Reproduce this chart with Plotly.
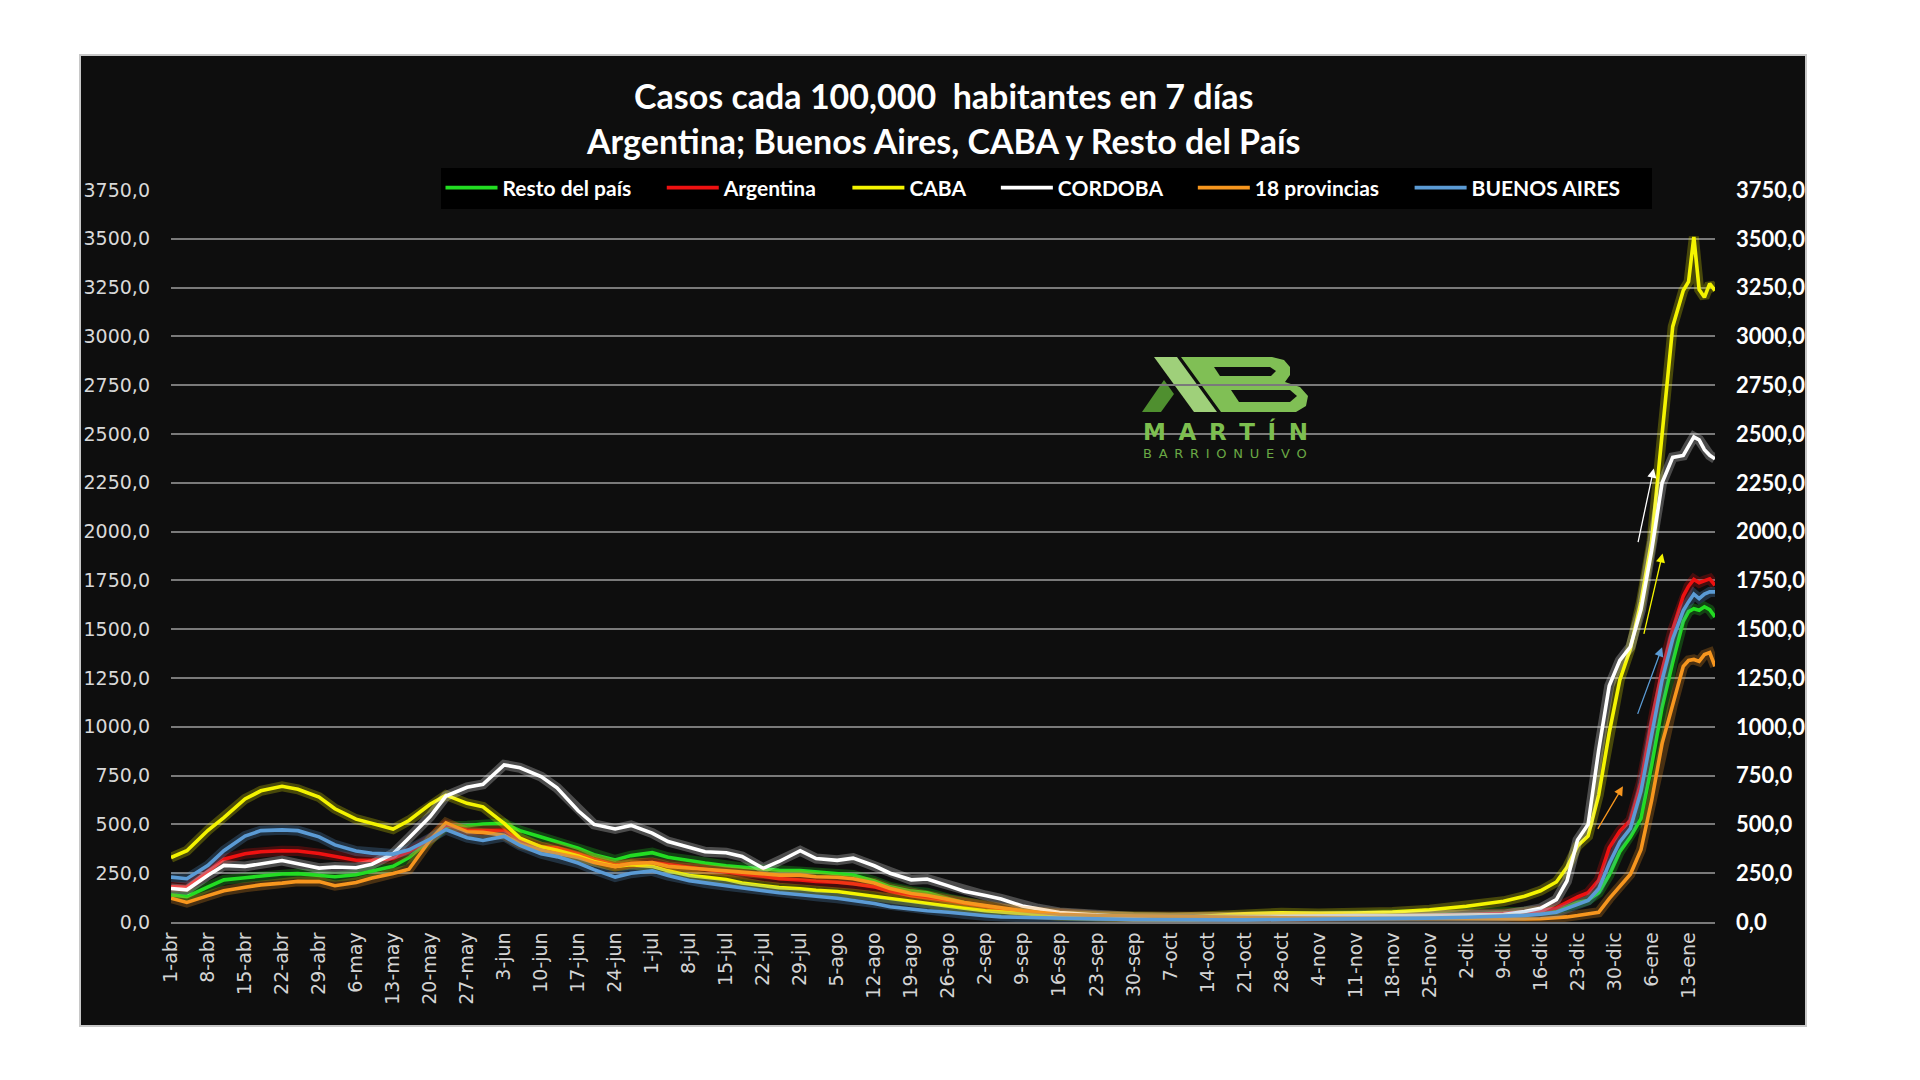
import plotly.graph_objects as go

# ---------------- data ----------------
dates = [
    "2020-04-01", "2020-04-04", "2020-04-08", "2020-04-11", "2020-04-15", "2020-04-18", "2020-04-22",
    "2020-04-25", "2020-04-29", "2020-05-02", "2020-05-06", "2020-05-09", "2020-05-13", "2020-05-16",
    "2020-05-20", "2020-05-23", "2020-05-27", "2020-05-30", "2020-06-03", "2020-06-06", "2020-06-10",
    "2020-06-13", "2020-06-17", "2020-06-20", "2020-06-24", "2020-06-27", "2020-07-01", "2020-07-04",
    "2020-07-08", "2020-07-11", "2020-07-15", "2020-07-18", "2020-07-22", "2020-07-25", "2020-07-29",
    "2020-08-01", "2020-08-05", "2020-08-08", "2020-08-12", "2020-08-15", "2020-08-19", "2020-08-22",
    "2020-08-26", "2020-08-29", "2020-09-02", "2020-09-05", "2020-09-09", "2020-09-12", "2020-09-16",
    "2020-09-23", "2020-09-30", "2020-10-07", "2020-10-14", "2020-10-21", "2020-10-28", "2020-11-04",
    "2020-11-11", "2020-11-18", "2020-11-25", "2020-12-02", "2020-12-09", "2020-12-13", "2020-12-16",
    "2020-12-19", "2020-12-21", "2020-12-23", "2020-12-25", "2020-12-27", "2020-12-29", "2020-12-31",
    "2021-01-02", "2021-01-04", "2021-01-06", "2021-01-08", "2021-01-10", "2021-01-12", "2021-01-13",
    "2021-01-14", "2021-01-15", "2021-01-16", "2021-01-17", "2021-01-18",
]

resto_del_pais = [
    138, 130, 180, 216, 227, 236, 246, 248, 241, 232, 242, 259, 285, 330, 420, 490, 493, 502, 505, 468, 435,
    410, 378, 345, 318, 340, 355, 332, 314, 302, 288, 280, 270, 265, 264, 258, 247, 241, 210, 180,
    158, 150, 120, 100, 82, 68, 53, 45, 37,
    30, 24, 23, 23, 25, 28, 30, 31, 33, 36, 40, 46,
    52, 58, 62, 78, 100, 112, 150, 240, 360, 435, 530, 800, 1100, 1330, 1540, 1590, 1605, 1597, 1615, 1600, 1563,
]

argentina = [
    180, 178, 260, 322, 350, 360, 365, 364, 351, 335, 316, 316, 325, 360, 425, 498, 470, 468, 470, 417, 385,
    380, 350, 320, 292, 300, 305, 295, 280, 268, 255, 246, 235, 222, 215, 208, 204, 196, 180, 158,
    135, 126, 110, 96, 80, 68, 52, 45, 37,
    30, 24, 21, 19, 22, 25, 27, 28, 30, 33, 38, 44,
    50, 58, 72, 100, 128, 150, 215, 380, 465, 521, 715, 1030, 1290, 1500, 1670, 1720, 1755, 1738, 1750, 1758, 1725,
]

caba = [
    330, 365, 470, 535, 630, 672, 695, 680, 640, 580, 527, 505, 476, 520, 603, 650, 608, 590, 505, 430, 385,
    368, 338, 310, 285, 294, 285, 262, 238, 230, 218, 200, 185, 176, 170, 162, 156, 145, 132, 119,
    106, 97, 82, 70, 58, 51, 43, 38, 32,
    28, 23, 20, 30, 42, 47, 44, 46, 51, 63, 81, 106,
    132, 160, 205, 280, 390, 440, 650, 970, 1240, 1400, 1640, 1950, 2520, 3050, 3235, 3280, 3510, 3240, 3200, 3270, 3235,
]

cordoba = [
    172, 165, 240, 290, 285, 296, 315, 298, 276, 282, 278, 296, 350, 430, 540, 645, 690, 705, 805, 790, 745,
    687, 570, 500, 477, 495, 455, 412, 383, 360, 355, 336, 275, 310, 365, 325, 316, 327, 288, 250,
    216, 220, 185, 158, 136, 118, 82, 68, 49,
    36, 26, 23, 25, 28, 32, 35, 33, 32, 34, 36, 38,
    54, 70, 115, 210, 420, 500, 880, 1210, 1340, 1410, 1600, 1900, 2250, 2380, 2390, 2440, 2485, 2470, 2420, 2391, 2373,
]

provincias_18 = [
    122, 100, 135, 160, 178, 190, 199, 208, 207, 186, 202, 225, 248, 270, 420, 508, 462, 459, 445, 400, 368,
    350, 330, 305, 284, 300, 305, 285, 274, 270, 262, 255, 245, 240, 240, 232, 229, 222, 200, 172,
    146, 136, 116, 100, 84, 72, 58, 50, 40,
    33, 30, 28, 26, 24, 22, 20, 19, 17, 15, 14, 14,
    15, 17, 20, 26, 33, 40, 50, 120, 185, 245, 370, 620, 915, 1110, 1310, 1340, 1345, 1335, 1370, 1380, 1310,
]

buenos_aires = [
    230, 222, 290, 365, 440, 468, 472, 468, 436, 395, 364, 352, 348, 370, 425, 474, 432, 418, 438, 392, 350,
    335, 302, 268, 230, 250, 262, 238, 212, 200, 186, 175, 160, 150, 138, 132, 122, 112, 95, 78,
    66, 58, 50, 41, 32, 26, 23, 21, 19,
    16, 13, 11, 10, 11, 13, 14, 15, 17, 20, 24, 28,
    34, 40, 50, 70, 92, 110, 170, 300, 410, 480, 670, 965, 1240, 1450, 1595, 1640, 1680, 1657, 1680, 1691, 1691,
]

tick_dates = [
    "2020-04-01", "2020-04-08", "2020-04-15", "2020-04-22", "2020-04-29", "2020-05-06", "2020-05-13",
    "2020-05-20", "2020-05-27", "2020-06-03", "2020-06-10", "2020-06-17", "2020-06-24", "2020-07-01",
    "2020-07-08", "2020-07-15", "2020-07-22", "2020-07-29", "2020-08-05", "2020-08-12", "2020-08-19",
    "2020-08-26", "2020-09-02", "2020-09-09", "2020-09-16", "2020-09-23", "2020-09-30", "2020-10-07",
    "2020-10-14", "2020-10-21", "2020-10-28", "2020-11-04", "2020-11-11", "2020-11-18", "2020-11-25",
    "2020-12-02", "2020-12-09", "2020-12-16", "2020-12-23", "2020-12-30", "2021-01-06", "2021-01-13",
]
tick_labels = [
    "1-abr", "8-abr", "15-abr", "22-abr", "29-abr", "6-may", "13-may", "20-may", "27-may", "3-jun",
    "10-jun", "17-jun", "24-jun", "1-jul", "8-jul", "15-jul", "22-jul", "29-jul", "5-ago", "12-ago",
    "19-ago", "26-ago", "2-sep", "9-sep", "16-sep", "23-sep", "30-sep", "7-oct", "14-oct", "21-oct",
    "28-oct", "4-nov", "11-nov", "18-nov", "25-nov", "2-dic", "9-dic", "16-dic", "23-dic", "30-dic",
    "6-ene", "13-ene",
]
y_ticks = [0, 250, 500, 750, 1000, 1250, 1500, 1750, 2000, 2250, 2500, 2750, 3000, 3250, 3500, 3750]

series = [
    ("Resto del país", resto_del_pais, "#22dd22"),
    ("Argentina", argentina, "#ee1111"),
    ("CABA", caba, "#f4f400"),
    ("CORDOBA", cordoba, "#ffffff"),
    ("18 provincias", provincias_18, "#f7961e"),
    ("BUENOS AIRES", buenos_aires, "#5b9bd5"),
]

# ---------------- layout geometry ----------------
W, H = 1920, 1080
OFF = 8                     # page body margin of the browser
PL, PR, PT, PB = 171, 1715, 190, 922   # plot area in reference pixels
L, T = PL - OFF, PT - OFF
R, B = W - (PR - OFF), H - (PB - OFF)
PW, PH = PR - PL, PB - PT
BG = "#0e0e0e"
NB = "\u00a0"
THIN = "\u2009"


def px(x):
    return (x - PL) / PW


def py(y):
    return (PB - y) / PH


def poly(pts):
    return "M " + " L ".join(f"{px(x):.5f},{py(y):.5f}" for x, y in pts) + " Z"


fig = go.Figure()

for name, vals, color in series:
    fig.add_trace(go.Scatter(x=dates, y=vals, mode="lines", line=dict(color=color, width=10),
                             opacity=0.25, showlegend=False, hoverinfo="skip"))
    fig.add_trace(go.Scatter(x=dates, y=vals, mode="lines", name=name + NB * 5,
                             line=dict(color=color, width=3.6)))

# invisible trace to carry the right-hand axis
fig.add_trace(go.Scatter(x=dates, y=caba, yaxis="y2", mode="lines", opacity=0,
                         showlegend=False, hoverinfo="skip"))

shapes = [
    dict(type="rect", xref="paper", yref="paper", x0=px(80), x1=px(1806), y0=py(1026), y1=py(55),
         fillcolor=BG, line=dict(color="#c8c8c8", width=2), layer="below"),
    # logo
    dict(type="path", xref="paper", yref="paper", layer="below", line=dict(width=0), fillcolor="#4f8f2f",
         path=poly([(1142, 412), (1161, 412), (1174, 394), (1164, 380)])),
    dict(type="path", xref="paper", yref="paper", layer="below", line=dict(width=0), fillcolor="#9fd07a",
         path=poly([(1154, 357), (1177, 357), (1217, 412), (1194, 412)])),
    dict(type="path", xref="paper", yref="paper", layer="below", line=dict(width=0), fillcolor="#80bf55",
         path=poly([(1181, 357), (1272, 357), (1284, 360), (1290, 367), (1290, 375), (1285, 382),
                    (1300, 387), (1308, 396), (1306, 406), (1296, 412), (1221, 412)])),
    dict(type="path", xref="paper", yref="paper", layer="below", line=dict(width=0), fillcolor=BG,
         path=poly([(1214, 367), (1270, 367), (1276, 371), (1271, 376), (1220, 376)])),
    dict(type="path", xref="paper", yref="paper", layer="below", line=dict(width=0), fillcolor=BG,
         path=poly([(1231, 390), (1290, 390), (1297, 396), (1290, 402), (1239, 402)])),
]

title_font = dict(family="Lato", size=34, color="white", weight="bold")
annotations = [
    dict(text="Casos cada 100,000  habitantes en 7 días", xref="paper", yref="paper", x=0.5, y=py(96),
         xanchor="center", yanchor="middle", showarrow=False, font=title_font),
    dict(text="Argentina; Buenos Aires, CABA y Resto del País", xref="paper", yref="paper", x=0.5, y=py(140),
         xanchor="center", yanchor="middle", showarrow=False, font=title_font),
    dict(text=(" " + THIN).join("MARTÍN"), xref="paper", yref="paper", x=px(1225), y=py(431),
         xanchor="center", yanchor="middle", showarrow=False,
         font=dict(family="DejaVu Sans", size=23, color="#7dbf4f", weight="bold")),
    dict(text=(" " + THIN).join("BARRIONUEVO"), xref="paper", yref="paper", x=px(1225), y=py(454),
         xanchor="center", yanchor="middle", showarrow=False,
         font=dict(family="DejaVu Sans", size=13, color="#6aa845")),
]

arrows = [
    ("2021-01-06 10:00", 2323, -16, 75, "#ffffff"),
    ("2021-01-08 02:00", 1888, -19, 82, "#f4f400"),
    ("2021-01-08 00:00", 1407, -25, 68, "#5b9bd5"),
    ("2020-12-31 14:00", 695, -26, 44, "#f7961e"),
]
for xa, ya, axp, ayp, col in arrows:
    annotations.append(dict(x=xa, y=ya, xref="x", yref="y", ax=axp, ay=ayp, text="", showarrow=True,
                            arrowhead=2, arrowsize=1.4, arrowwidth=1.3, arrowcolor=col))

fig.update_layout(
    width=W, height=H,
    margin=dict(l=L, r=R, t=T, b=B),
    paper_bgcolor="white",
    plot_bgcolor="rgba(0,0,0,0)",
    separators=",.",
    showlegend=True,
    shapes=shapes,
    annotations=annotations,
    hovermode=False,
    legend=dict(orientation="h", x=px(1046), xanchor="center", y=py(188), yanchor="middle",
                bgcolor="#000000", borderwidth=0, itemwidth=52,
                font=dict(family="Lato", size=21, color="white", weight="bold")),
    xaxis=dict(type="date", range=["2020-04-01", "2021-01-18"], tickmode="array",
               tickvals=tick_dates, ticktext=tick_labels, tickangle=-90,
               tickfont=dict(family="DejaVu Sans", size=19, color="#d4d4d4"),
               showgrid=False, zeroline=False, showline=True, linecolor="#7a7a7a", linewidth=1.5,
               ticks="", ticklabelstandoff=1),
    yaxis=dict(range=[0, 3750], tickmode="array", tickvals=y_ticks, tickformat=".1f",
               showgrid=True, gridcolor="#7a7a7a", gridwidth=1.5, zeroline=False, showline=False,
               tickfont=dict(family="DejaVu Sans", size=19, color="#d9d9d9"),
               ticks="", ticklabelstandoff=20),
    yaxis2=dict(range=[0, 3750], overlaying="y", side="right", tickmode="array", tickvals=y_ticks,
                tickformat=".1f", showgrid=False, zeroline=False, showline=False,
                tickfont=dict(family="Lato", size=22, color="white", weight="bold"),
                ticks="", ticklabelstandoff=20),
)

fig.write_html("out.html")
